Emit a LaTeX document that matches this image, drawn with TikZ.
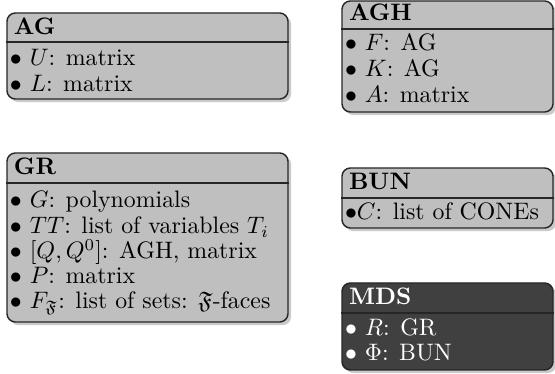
\documentclass[tikz,border=0pt]{standalone}
\usepackage{amssymb}
\usetikzlibrary{fit,shadows}
\tikzset{
  box/.style={draw=black!85, line width=0.6pt, rounded corners=3.5pt, fill=black!25, inner sep=0pt,
    drop shadow={shadow xshift=1.3pt, shadow yshift=-1.3pt, opacity=0.35, fill=black!60}},
  darkbox/.style={box, fill=black!75},
  sep/.style={draw=black!85, line width=0.6pt},
  txt/.style={anchor=base west, inner sep=0pt, outer sep=0pt},
  ttl/.style={txt, font=\bfseries},
  wtxt/.style={txt, text=white},
  wttl/.style={ttl, text=white},
}
\begin{document}
\begin{tikzpicture}[x=0.42pt, y=-0.42pt]
\useasboundingbox (0,0) rectangle (555,374);
% AG
\node[box, fit={(7,13) (288,99)}] (ag) {};
\draw[sep] (ag.west |- 0,42) -- (ag.east |- 0,42);
\node[ttl] (agt) at (14,35) {AG};
\node[txt] (ag1) at (10,66) {$\bullet$ $U$: matrix};
\node[txt] (ag2) at (10,92) {$\bullet$ $L$: matrix};
% AGH
\node[box, fit={(342,1) (553,112)}] (agh) {};
\draw[sep] (agh.west |- 0,29) -- (agh.east |- 0,29);
\node[ttl] (aght) at (349,21) {AGH};
\node[txt] (agh1) at (345,51) {$\bullet$ $F$: AG};
\node[txt] (agh2) at (345,77) {$\bullet$ $K$: AG};
\node[txt] (agh3) at (345,103) {$\bullet$ $A$: matrix};
% GR
\node[box, fit={(7,153) (288,322)}] (gr) {};
\draw[sep] (gr.west |- 0,183) -- (gr.east |- 0,183);
\node[ttl] (grt) at (14,175) {GR};
\node[txt] (gr1) at (10,208) {$\bullet$ $G$: polynomials};
\node[txt] (gr2) at (10,234) {$\bullet$ $TT$: list of variables $T_i$};
\node[txt] (gr3) at (10,259) {$\bullet$ $[Q,Q^0]$: AGH, matrix};
\node[txt] (gr4) at (10,284) {$\bullet$ $P$: matrix};
\node[txt] (gr5) at (10,309) {$\bullet$ $F_{\mathfrak{F}}$: list of sets: $\mathfrak{F}$-faces};
% BUN
\node[box, fit={(342,168) (553,228)}] (bun) {};
\draw[sep] (bun.west |- 0,198) -- (bun.east |- 0,198);
\node[ttl] (bunt) at (349,190) {BUN};
\node[txt] (bun1) at (345,220) {$\bullet$$C$: list of CONEs};
% MDS
\node[darkbox, fit={(342,283) (553,370)}] (mds) {};
\draw[sep] (mds.west |- 0,313) -- (mds.east |- 0,313);
\node[wttl] (mdst) at (349,305) {MDS};
\node[wtxt] (mds1) at (345,336) {$\bullet$ $R$: GR};
\node[wtxt] (mds2) at (345,361) {$\bullet$ $\Phi$: BUN};
\end{tikzpicture}
\end{document}
